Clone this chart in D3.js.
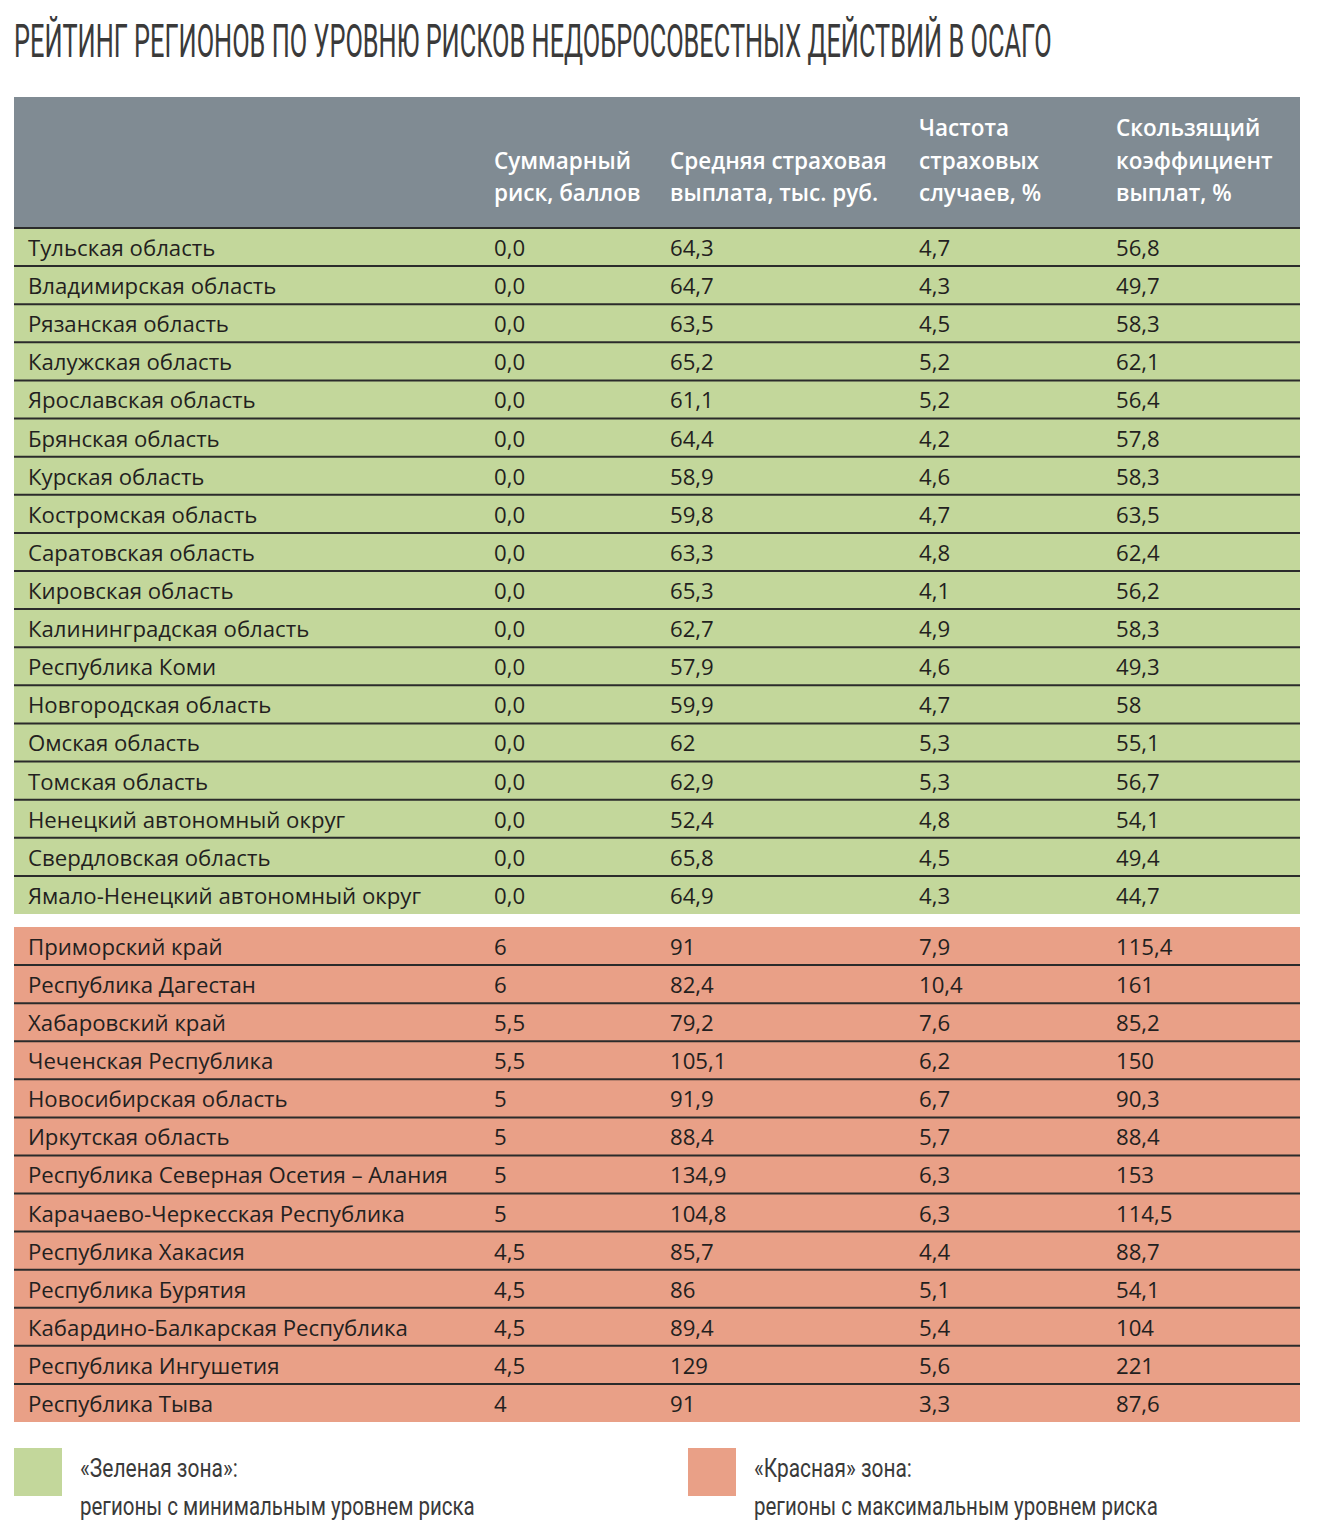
<!DOCTYPE html>
<html><head><meta charset="utf-8">
<script src="https://cdn.jsdelivr.net/npm/d3@7"></script>
<style>body{margin:0;background:#fff}svg{display:block}</style>
</head><body>
<script>
const title = "РЕЙТИНГ РЕГИОНОВ ПО УРОВНЮ РИСКОВ НЕДОБРОСОВЕСТНЫХ ДЕЙСТВИЙ В ОСАГО";
const headers = [
  [],
  ["Суммарный", "риск, баллов"],
  ["Средняя страховая", "выплата, тыс. руб."],
  ["Частота", "страховых", "случаев, %"],
  ["Скользящий", "коэффициент", "выплат, %"]
];
const greenRegions = ["Тульская область","Владимирская область","Рязанская область","Калужская область","Ярославская область","Брянская область","Курская область","Костромская область","Саратовская область","Кировская область","Калининградская область","Республика Коми","Новгородская область","Омская область","Томская область","Ненецкий автономный округ","Свердловская область","Ямало-Ненецкий автономный округ"];
const greenRisk = ["0,0","0,0","0,0","0,0","0,0","0,0","0,0","0,0","0,0","0,0","0,0","0,0","0,0","0,0","0,0","0,0","0,0","0,0"];
const greenPayout = ["64,3","64,7","63,5","65,2","61,1","64,4","58,9","59,8","63,3","65,3","62,7","57,9","59,9","62","62,9","52,4","65,8","64,9"];
const greenFreq = ["4,7","4,3","4,5","5,2","5,2","4,2","4,6","4,7","4,8","4,1","4,9","4,6","4,7","5,3","5,3","4,8","4,5","4,3"];
const greenRatio = ["56,8","49,7","58,3","62,1","56,4","57,8","58,3","63,5","62,4","56,2","58,3","49,3","58","55,1","56,7","54,1","49,4","44,7"];

const redRegions = ["Приморский край","Республика Дагестан","Хабаровский край","Чеченская Республика","Новосибирская область","Иркутская область","Республика Северная Осетия – Алания","Карачаево-Черкесская Республика","Республика Хакасия","Республика Бурятия","Кабардино-Балкарская Республика","Республика Ингушетия","Республика Тыва"];
const redRisk = ["6","6","5,5","5,5","5","5","5","5","4,5","4,5","4,5","4,5","4"];
const redPayout = ["91","82,4","79,2","105,1","91,9","88,4","134,9","104,8","85,7","86","89,4","129","91"];
const redFreq = ["7,9","10,4","7,6","6,2","6,7","5,7","6,3","6,3","4,4","5,1","5,4","5,6","3,3"];
const redRatio = ["115,4","161","85,2","150","90,3","88,4","153","114,5","88,7","54,1","104","221","87,6"];

const legendItems = [
  {label1:"«Зеленая зона»:", label2:"регионы с минимальным уровнем риска", zone:"green"},
  {label1:"«Красная» зона:", label2:"регионы с максимальным уровнем риска", zone:"red"}
];

const W = 1320, H = 1536;
const colors = {header:"#808b93", green:"#c3d79b", red:"#e9a087", line:"#2b2b2b", text:"#231f20"};
const bodyFont = "'Open Sans', sans-serif";
const condFont = "Roboto, 'Liberation Sans', sans-serif";

const svg = d3.select("body").append("svg").attr("width", W).attr("height", H);

// condensed text: scale horizontally to a target width
function condensed(parent, x, y, size, width, txt, fill) {
  const t = parent.append("text").attr("x", 0).attr("y", 0)
    .attr("font-family", condFont).attr("font-size", size).attr("fill", fill).text(txt);
  const w = t.node().getComputedTextLength();
  t.attr("transform", `translate(${x},${y}) scale(${width / w},1)`);
  return t;
}

// title
condensed(svg, 14, 57, 46, 1038, title, "#3a3a3a");

const left = 14, right = 1300;
const colX = d3.scaleOrdinal().domain([0,1,2,3,4]).range([28, 494, 670, 919, 1116]);

// header
svg.append("rect").attr("x", left).attr("y", 97).attr("width", right-left).attr("height", 131).attr("fill", colors.header);
headers.forEach((lines, c) => {
  const n = lines.length;
  lines.forEach((t, i) => {
    svg.append("text").attr("x", colX(c)).attr("y", 201 - (n-1-i)*32.5)
      .attr("font-family", bodyFont).attr("font-weight", 600).attr("font-size", 22.5)
      .attr("fill", "#fff").text(t);
  });
});

function block(regions, cols, y0, y1, fill) {
  const y = d3.scaleBand().domain(d3.range(regions.length)).range([y0, y1]);
  const g = svg.append("g");
  g.append("rect").attr("x", left).attr("y", y0).attr("width", right-left).attr("height", y1-y0).attr("fill", fill);
  const rows = g.selectAll("g.row").data(regions.map((r,i)=>[r, ...cols.map(c=>c[i])]))
    .join("g").attr("class","row").attr("transform", (d,i)=>`translate(0,${y(i)})`);
  rows.filter((d,i)=>i>0).append("line").attr("x1", left).attr("x2", right).attr("y1", 0).attr("y2", 0)
    .attr("stroke", colors.line).attr("stroke-width", 2);
  rows.selectAll("text").data(d=>d).join("text")
    .attr("x", (d,i)=>colX(i)).attr("y", y.bandwidth()/2 + 9)
    .attr("font-family", bodyFont).attr("font-size", 22.2).attr("fill", colors.text)
    .text(d=>d);
}
block(greenRegions, [greenRisk, greenPayout, greenFreq, greenRatio], 228, 914, colors.green);
block(redRegions, [redRisk, redPayout, redFreq, redRatio], 927, 1422, colors.red);
// header bottom line
svg.append("line").attr("x1", left).attr("x2", right).attr("y1", 228).attr("y2", 228)
  .attr("stroke", colors.line).attr("stroke-width", 2);

// legend
const lx = d3.scaleOrdinal().domain(["green","red"]).range([14, 688]);
const lg = svg.selectAll("g.legend").data(legendItems).join("g").attr("class","legend")
  .attr("transform", d=>`translate(${lx(d.zone)},1448)`);
lg.append("rect").attr("width", 48).attr("height", 48).attr("fill", d=>colors[d.zone]);
lg.each(function(d, i) {
  const g = d3.select(this);
  condensed(g, 66, 29, 25, 158, d.label1, "#3a3a3a");
  condensed(g, 66, 67, 25, i === 0 ? 395 : 404, d.label2, "#3a3a3a");
});
</script>
</body></html>
